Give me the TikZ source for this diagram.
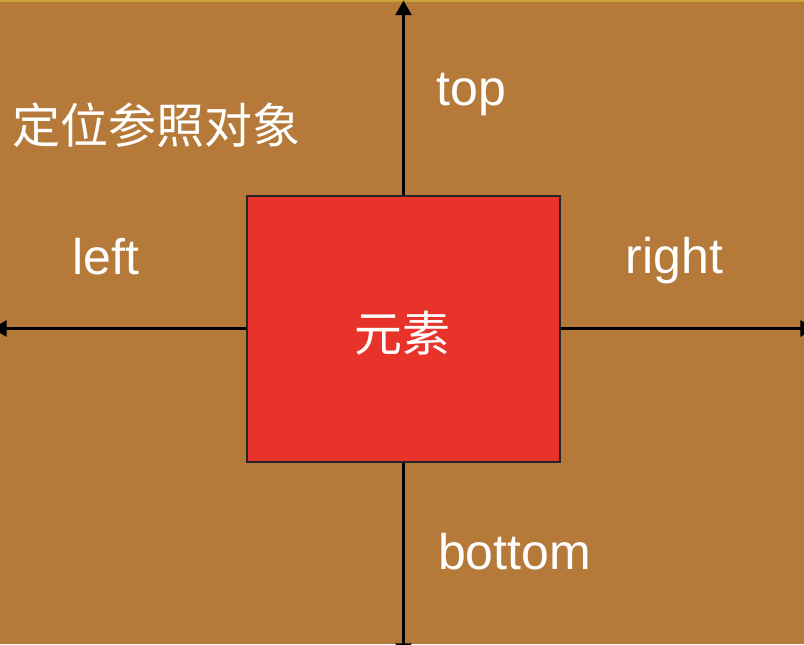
\documentclass[tikz,border=0pt]{standalone}
\usepackage{fontspec}
\setmainfont{Liberation Sans}
\newfontfamily\cjk{Noto Sans CJK SC}
\usepackage{xcolor}
\usetikzlibrary{arrows.meta,positioning}
\definecolor{refbrown}{HTML}{B57A3A}
\definecolor{refline}{HTML}{C9A23A}
\definecolor{elemred}{HTML}{E8332A}
\definecolor{elemedge}{HTML}{262626}
\tikzset{
    axis/.style={line width=2pt, -{Triangle[length=11pt,width=12pt]}},
    lbl/.style={text=white, anchor=base, font=\fontsize{37.5}{40}\selectfont},
    cjklbl/.style={text=white, font=\cjk\fontsize{36}{40}\selectfont}
}

\begin{document}
\begin{tikzpicture}[x=0.75pt, y=-0.75pt]
    % background of the reference object
    \useasboundingbox (0,0) rectangle (804,644);
    \fill[refbrown] (0,0) rectangle (804,644);
    \fill[refline] (0,0) rectangle (804,2);
    
    \node[cjklbl, anchor=west] (ref) at (8,125) {定位参照对象};
    
    % the element
    \node[draw=elemedge, line width=1.5pt, fill=elemred,
          minimum width=234.75pt, minimum height=199.5pt] (elem) at (403.5,329) {};
    \node[cjklbl] (elemtxt) at (402,333) {元素};
    
    % axis ends
    \coordinate (topend) at (403.5,0.5);
    \coordinate (bottomend) at (403.5,658);
    \coordinate (leftend) at (-8,328.5);
    \coordinate (rightend) at (815,328.5);
    
    \draw[axis] (elem.north -| topend) -- (topend);
    \draw[axis] (elem.south -| bottomend) -- (bottomend);
    \draw[axis] (elem.west |- leftend) -- (leftend);
    \draw[axis] (elem.east |- rightend) -- (rightend);
    
    \node[lbl] (top) at (471.5,105) {top};
    \node[lbl] (left) at (106,274) {left};
    \node[lbl] (right) at (674.5,273) {right};
    \node[lbl] (bottom) at (514.5,569) {bottom};
\end{tikzpicture}
\end{document}
